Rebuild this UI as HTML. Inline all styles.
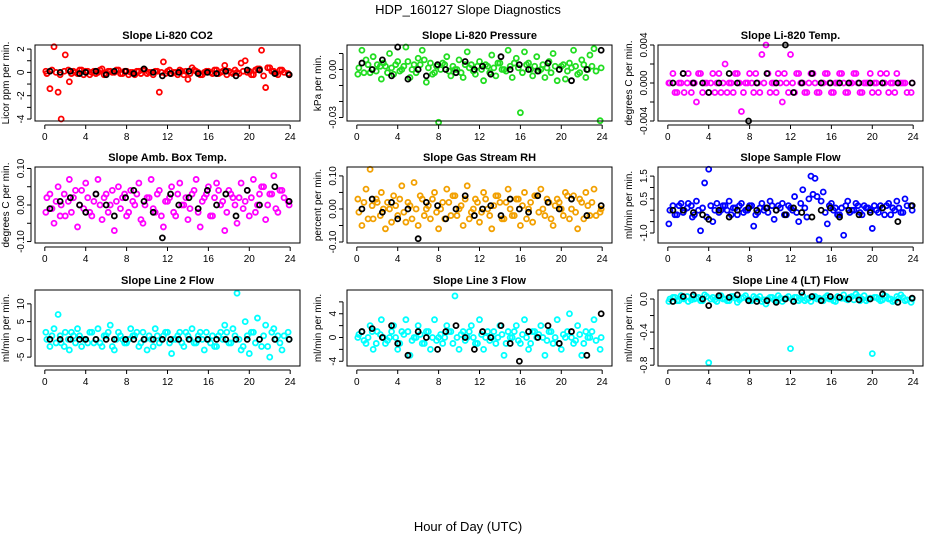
<!DOCTYPE html>
<html><head><meta charset="utf-8"><style>
body{margin:0;background:#fff;}
svg{display:block;font-family:"Liberation Sans",sans-serif;}
</style></head><body>
<svg id="c" width="936" height="540" viewBox="0 0 936 540">
<text x="468" y="14" text-anchor="middle" font-size="13">HDP_160127  Slope Diagnostics</text>
<text x="468" y="531" text-anchor="middle" font-size="13">Hour of Day (UTC)</text>
</svg>
<script>
const hoursC=[0.1,0.5,0.9,1.3,1.6,2.0,2.4,2.8,3.2,3.6,4.0,4.4,4.8,5.2,5.6,6.0,6.4,6.8,7.2,7.6,8.0,8.4,8.8,9.2,9.6,10.0,10.4,10.8,11.2,11.6,12.0,12.4,12.8,13.2,13.6,14.0,14.4,14.8,15.2,15.6,16.0,16.4,16.8,17.2,17.6,18.0,18.4,18.8,19.2,19.6,20.0,20.4,20.8,21.2,21.6,22.0,22.4,22.8,23.2,23.8];
const hoursB=[0.2,0.7,1.1,1.5,1.9,2.3,2.6,3.0,3.4,3.8,4.2,4.6,5.0,5.4,5.8,6.2,6.6,7.0,7.4,7.8,8.2,8.6,9.0,9.4,9.8,10.2,10.6,11.0,11.4,11.8,12.2,12.6,13.0,13.4,13.8,14.2,14.6,15.0,15.4,15.8,16.2,16.6,17.0,17.4,17.8,18.2,18.6,19.0,19.4,19.8,20.2,20.6,21.0,21.4,21.8,22.2,22.6,23.0,23.4,23.9];
const hoursK=[0.5,1.5,2.5,3.4,4.0,5.0,6.0,6.8,7.9,8.7,9.7,10.6,11.5,12.3,13.1,14.1,15.0,15.9,16.8,17.7,18.7,19.8,21.0,22.5,23.9];
const xTicks=[0,4,8,12,16,20,24];

const co2C=[0.1,-1.4,2.2,-1.7,-4.0,1.5,-0.8,0.1,-0.1,0.2,0.1,-0.2,0.1,0.0,0.3,-0.1,0.1,0.0,0.2,-0.1,0.1,0.0,-0.2,0.1,0.2,-0.1,0.0,0.1,-1.7,0.9,0.1,-0.1,0.0,0.2,-0.2,-0.6,0.4,0.1,-0.2,0.0,0.1,-0.1,0.2,0.0,0.6,0.1,-0.1,0.0,0.8,1.0,0.1,-0.2,0.3,1.9,-1.3,0.4,0.1,-0.2,0.2,-0.1];
const co2B=[-0.1,0.2,0.0,-0.2,0.1,0.2,-0.1,0.0,0.2,-0.2,0.1,0.0,-0.1,0.2,-0.2,0.1,0.0,0.2,-0.1,0.1,-0.2,0.0,0.1,-0.1,0.2,0.0,-0.2,0.1,0.0,-0.1,0.2,0.0,-0.2,0.1,0.1,-0.1,0.2,0.0,-0.2,0.1,0.0,0.2,-0.1,0.1,-0.2,0.0,0.2,-0.1,0.1,0.0,-0.2,0.2,0.3,-0.3,0.4,0.1,-0.1,0.2,0.0,-0.2];
const co2K=[0.1,0.0,0.1,-0.1,0.0,0.1,-0.2,0.1,0.1,-0.1,0.3,0.0,-0.3,-0.1,0.0,0.1,-0.1,0.0,-0.1,0.1,-0.3,0.2,0.2,-0.1,-0.2];
const presC=[-0.003,0.012,0.006,-0.002,0.008,0.003,-0.006,0.002,0.01,-0.003,0.005,0.0,0.014,-0.005,0.003,0.007,0.012,-0.008,0.004,-0.002,-0.033,0.004,0.008,-0.004,0.0,0.006,-0.005,0.011,0.003,-0.003,0.005,-0.007,0.002,0.009,-0.004,0.004,0.0,0.012,-0.005,0.007,-0.027,0.011,0.004,-0.004,0.008,0.0,-0.005,0.005,0.01,-0.007,0.002,-0.006,0.004,0.012,-0.003,0.006,-0.005,0.009,0.013,-0.032];
const presB=[0.001,-0.002,0.003,0.0,-0.001,0.002,0.004,-0.002,0.001,0.003,-0.001,0.002,0.005,0.0,-0.002,0.003,0.006,0.001,-0.003,0.002,0.0,0.003,-0.001,0.002,0.0,-0.002,0.003,0.001,-0.001,0.002,0.0,0.003,-0.002,0.001,0.004,0.0,-0.001,0.002,0.004,0.001,-0.002,0.003,0.0,0.002,-0.001,0.003,0.001,-0.002,0.002,0.0,0.003,-0.001,0.001,0.002,-0.002,0.003,0.0,0.002,-0.001,0.001];
const presK=[0.004,0.0,0.006,-0.004,0.014,-0.006,0.0,-0.004,0.003,0.0,-0.002,0.005,0.0,0.002,-0.003,0.008,0.0,0.003,0.0,-0.001,0.004,0.0,-0.007,0.0,0.012];
const tempC=[0,0.001,-0.001,0,-0.001,0.001,0,-0.002,0.001,0,-0.001,0.001,0,-0.001,0.002,0,-0.001,0.001,-0.003,0,0.001,-0.001,0,0.003,0.004,-0.001,0,0.001,-0.002,0,0.003,-0.001,0.001,0,-0.001,0.001,0,-0.001,0,0.001,-0.001,0,0.001,0,-0.001,0,0.001,-0.001,0,0,-0.001,0,0.001,0,-0.001,0,0.001,0,0,-0.001];
const tempB=[0,-0.001,0,0.001,0,-0.001,0,0.001,-0.001,0,0,-0.001,0.001,0,-0.001,0,0.001,0,-0.001,0,0,0.001,-0.001,0,0.001,0,-0.001,0,0.001,-0.001,0,0.001,0,-0.001,0,0.001,-0.001,0,0.001,0,-0.001,0,0.001,-0.001,0,0.001,0,-0.001,0,0.001,0,-0.001,0,0.001,0,-0.001,0,0,-0.001,0];
const tempK=[0,0.001,0,0,-0.001,0,0.001,0,-0.004,0,0.001,0,0.004,-0.001,0,0.001,0,0,0,0,0,0,0,0,0];
const ambC=[-0.02,0.03,-0.05,0.05,0.0,-0.03,0.07,0.02,-0.06,0.04,0.06,-0.02,0.01,0.07,-0.04,0.03,0.0,-0.07,0.05,0.02,-0.03,0.04,0.0,0.06,-0.05,0.02,0.07,-0.02,0.04,-0.06,0.01,0.05,-0.03,0.06,0.0,-0.04,0.03,0.07,-0.06,0.02,0.05,-0.03,0.06,0.0,-0.07,0.04,0.02,-0.05,0.06,0.01,-0.03,0.07,0.0,0.05,-0.04,0.03,0.08,-0.02,0.04,0.01];
const ambB=[0.02,-0.01,0.01,-0.03,0.03,0.01,-0.02,0.04,0.0,-0.01,0.02,-0.03,0.03,0.0,0.02,-0.02,0.04,0.01,-0.01,0.03,-0.02,0.01,0.03,-0.04,0.0,0.02,-0.01,0.03,-0.03,0.01,0.02,-0.02,0.03,0.0,0.02,-0.01,0.04,-0.02,0.01,0.03,-0.03,0.02,0.04,0.01,-0.02,0.03,0.0,0.02,-0.01,0.04,0.02,-0.02,0.03,0.05,0.0,0.03,-0.01,0.04,0.02,0.0];
const ambK=[-0.01,0.01,0.02,0.0,-0.02,0.03,0.0,-0.03,0.02,0.04,0.01,-0.02,-0.09,0.03,0.0,0.02,-0.01,0.04,0.0,0.03,-0.03,0.04,0.0,0.05,0.01];
const rhC=[0.03,-0.05,0.06,0.12,-0.03,0.02,0.05,-0.06,0.0,0.04,-0.02,0.07,-0.04,0.01,0.08,-0.05,0.03,0.0,-0.03,0.05,-0.06,0.02,0.06,-0.02,0.04,0.0,-0.05,0.07,-0.01,0.03,-0.04,0.05,0.0,-0.06,0.04,0.02,-0.03,0.06,-0.02,0.03,-0.05,0.05,0.0,-0.04,0.04,0.06,-0.02,0.02,-0.05,0.03,0.0,0.05,-0.03,0.04,-0.06,0.02,0.05,-0.02,0.06,-0.01];
const rhB=[-0.01,0.02,-0.03,0.01,0.03,-0.02,0.0,0.02,-0.04,0.01,0.03,-0.01,0.02,-0.03,0.0,0.04,-0.02,0.01,0.03,-0.01,0.0,-0.03,0.02,0.04,-0.02,0.01,0.03,-0.03,0.0,0.02,-0.01,0.03,-0.02,0.01,0.04,-0.03,0.02,0.0,-0.02,0.03,0.01,-0.03,0.02,0.04,-0.01,0.0,0.03,-0.03,0.01,0.02,-0.02,0.04,0.0,-0.01,0.03,-0.03,0.01,0.02,-0.02,0.0];
const rhK=[0.0,0.03,-0.01,0.02,-0.03,0.0,-0.09,0.02,0.01,-0.03,0.0,0.04,-0.02,0.0,0.01,-0.02,0.03,0.0,-0.01,0.04,0.02,0.0,0.03,-0.02,0.01];
const flowC=[-0.6,0.2,-0.2,0.3,0.0,0.3,-0.3,0.4,-0.9,1.2,1.8,-0.5,0.3,0.0,0.2,0.4,0.1,-0.2,0.3,0.0,0.2,-0.7,-0.1,0.3,0.1,0.4,-0.4,0.2,0.3,-0.2,0.1,0.6,-0.5,0.9,-0.3,1.5,1.4,-1.3,0.8,-0.6,0.3,0.1,-0.2,-1.1,0.4,0.0,0.3,-0.1,0.2,0.1,-0.8,0.0,0.2,-0.2,0.3,0.1,0.4,-0.1,0.5,0.2];
const flowB=[0.0,-0.2,0.2,-0.1,0.1,0.2,-0.2,0.0,0.1,-0.3,0.2,0.0,-0.1,0.2,0.0,-0.2,0.1,0.2,-0.1,0.0,0.2,-0.2,0.1,0.0,-0.1,0.2,0.0,0.1,-0.2,0.2,0.0,-0.1,0.3,0.1,0.5,0.7,0.6,0.4,-0.1,0.2,0.0,-0.2,0.1,0.2,-0.1,0.0,0.2,-0.2,0.1,0.0,0.2,-0.1,0.1,0.2,-0.2,0.0,0.1,-0.1,0.2,0.0];
const flowK=[0.0,0.0,-0.1,-0.2,-0.4,0.0,-0.3,0.0,0.1,0.0,0.1,0.0,-0.2,0.1,-0.1,-0.3,0.0,0.1,-0.3,0.0,-0.2,-0.1,0.1,-0.5,0.2];
const l2C=[2,-2,3,7,-1,2,-3,1,3,-2,0,2,-1,3,-2,1,4,-3,2,0,-1,3,1,-2,2,-3,0,3,-1,1,2,-4,0,2,-2,1,3,-1,2,-3,0,1,-2,2,4,-1,3,13,-3,5,-4,2,6,-2,4,-5,3,1,-3,2];
const l2B=[0,1,-1,1,-2,0,2,-1,1,0,-1,2,0,-1,1,2,-2,0,1,-1,0,1,2,-1,0,1,-2,1,0,2,-1,0,1,-1,2,0,-1,1,0,2,-1,-2,1,0,2,-1,1,0,-2,1,2,-1,0,1,-2,2,0,-1,1,0];
const l2K=[0,0,0,0,0,0,0,0,0,0,0,0,0,0,0,0,0,0,0,0,0,0,0,0,0];
const l3C=[0,1,-1,2,-2,1,3,-1,0,2,-2,1,3,-3,0,2,-1,1,-2,3,0,-1,2,1,7,-2,1,0,2,-1,3,-2,1,0,-1,2,-3,1,0,2,-1,3,-2,1,0,2,-3,1,-1,3,-2,0,4,-1,2,-3,1,0,3,-2];
const l3B=[0.5,-0.5,0,1,-1,0.5,0,-0.5,1,0,-1,0.5,1,-0.5,0,0.5,-1,1,0,-0.5,0.5,0,1,-1,0,0.5,-0.5,1,0,-1,0.5,0,-0.5,1,0,0.5,-1,0,1,-0.5,0.5,0,-1,1,0.5,0,-0.5,1,0,-1,0.5,1,0,-0.5,0.5,-1,0,1,-0.5,0];
const l3K=[1,1.5,0,2,-1,-3,1,0,-2,1,2,0,-2,1,0,2,-1,-4,1,0,2,-1,1,-3,4];
const l4C=[-0.03,0.02,-0.02,0.04,0.0,-0.03,0.03,0.01,-0.02,0.05,-0.77,0.02,-0.03,0.04,0.0,-0.02,0.03,-0.04,0.01,0.04,-0.02,0.03,0.0,-0.03,-0.06,0.02,-0.01,0.04,-0.03,0.01,-0.6,0.02,-0.02,0.04,0.0,-0.03,0.03,0.01,-0.02,0.04,0.0,-0.03,0.02,0.05,-0.01,0.03,0.06,-0.02,0.04,0.0,-0.66,0.02,-0.02,0.04,0.0,-0.03,0.03,0.05,-0.02,-0.04];
const l4B=[0.0,0.02,-0.02,0.01,0.03,-0.01,0.0,0.02,-0.02,0.03,0.0,-0.01,0.02,0.0,-0.02,0.03,0.01,-0.01,0.02,0.0,-0.02,0.01,0.03,-0.01,0.0,0.02,-0.02,0.01,0.0,0.03,-0.01,0.02,0.0,-0.02,0.01,0.03,0.0,-0.01,0.02,0.0,-0.02,0.03,0.01,0.0,0.02,-0.01,0.03,0.0,-0.02,0.01,0.02,0.0,-0.01,0.03,0.0,-0.02,0.01,0.02,-0.01,0.0];
const l4K=[-0.03,0.03,0.05,0.0,-0.08,0.04,0.02,0.05,-0.02,-0.03,-0.02,-0.04,0.0,-0.03,0.08,0.03,-0.02,0.03,0.02,0.0,-0.01,0.0,0.06,-0.04,0.01];

const panels=[
 {t:"Slope Li-820 CO2",yl:"Licor ppm per min.",c:"#ff0000",C:co2C,B:co2B,K:co2K,d:[-4.17,2.35],ticks:[-4,-3,-2,-1,0,1,2],labs:{"-4":"-4","-2":"-2","0":"0","2":"2"}},
 {t:"Slope Li-820 Pressure",yl:"kPa per min.",c:"#22dd22",C:presC,B:presB,K:presK,d:[-0.0322,0.0153],ticks:[-0.03,-0.02,-0.01,0,0.01],labs:{"-0.03":"-0.03","0":"0.00"}},
 {t:"Slope Li-820 Temp.",yl:"degrees C per min.",c:"#ff00ff",C:tempC,B:tempB,K:tempK,d:[-0.004,0.004],ticks:[-0.004,-0.002,0,0.002,0.004],labs:{"-0.004":"-0.004","0":"0.000","0.004":"0.004"}},
 {t:"Slope Amb. Box Temp.",yl:"degrees C per min.",c:"#ff00ff",C:ambC,B:ambB,K:ambK,d:[-0.104,0.104],ticks:[-0.1,-0.05,0,0.05,0.1],labs:{"-0.1":"-0.10","0":"0.00","0.1":"0.10"}},
 {t:"Slope Gas Stream RH",yl:"percent per min.",c:"#f2a000",C:rhC,B:rhB,K:rhK,d:[-0.103,0.127],ticks:[-0.1,-0.05,0,0.05,0.1],labs:{"-0.1":"-0.10","0":"0.00","0.1":"0.10"}},
 {t:"Slope Sample Flow",yl:"ml/min per min.",c:"#0000ff",C:flowC,B:flowB,K:flowK,d:[-1.44,1.9],ticks:[-1,-0.5,0,0.5,1,1.5],labs:{"-1":"-1.0","0.5":"0.5","1.5":"1.5"}},
 {t:"Slope Line 2 Flow",yl:"ml/min per min.",c:"#00ffff",C:l2C,B:l2B,K:l2K,d:[-7.5,13.9],ticks:[-5,0,5,10],labs:{"-5":"-5","0":"0","5":"5","10":"10"}},
 {t:"Slope Line 3 Flow",yl:"ml/min per min.",c:"#00ffff",C:l3C,B:l3B,K:l3K,d:[-4.8,8],ticks:[-4,-2,0,2,4,6],labs:{"-4":"-4","0":"0","4":"4"}},
 {t:"Slope Line 4 (LT) Flow",yl:"ml/min per min.",c:"#00ffff",C:l4C,B:l4B,K:l4K,d:[-0.81,0.109],ticks:[-0.8,-0.6,-0.4,-0.2,0],labs:{"-0.8":"-0.8","-0.4":"-0.4","0":"0.0"}}
];
const lefts=[35,347,658],tops=[45,167,290],W=265,H=76;
const svg=document.getElementById('c');
const NS="http://www.w3.org/2000/svg";
function mk(tag,a,parent){const e=document.createElementNS(NS,tag);for(const k in a)e.setAttribute(k,a[k]);(parent||svg).appendChild(e);return e;}
panels.forEach((p,i)=>{
 const L=lefts[i%3],T=tops[Math.floor(i/3)];
 const g=mk('g',{});
 
 
 const xs=v=>L+(v+0.96)/25.92*W;
 const ys=v=>T+H-(v-p.d[0])/(p.d[1]-p.d[0])*H;
 const tt=mk('text',{x:L+W/2,y:T-6,'text-anchor':'middle','font-size':11,'font-weight':'bold'},g);tt.textContent=p.t;
 
 
 const yt=mk('text',{x:0,y:0,'text-anchor':'middle','font-size':10,transform:`translate(${L-26},${T+H/2}) rotate(-90)`},g);yt.textContent=p.yl;
 
 
 const pts=mk('g',{},g);
 
 
 p.B.forEach((v,j)=>{if(j>=hoursB.length)return;const c=mk('circle',{cx:xs(hoursB[j]),cy:ys(v),r:2.5,fill:'none',stroke:p.c,'stroke-width':1.8},pts);
  
  });
 p.C.forEach((v,j)=>{if(j>=hoursC.length)return;const c=mk('circle',{cx:xs(hoursC[j]),cy:ys(v),r:2.5,fill:'none',stroke:p.c,'stroke-width':1.8},pts);
  
  });
 p.K.forEach((v,j)=>{if(j>=hoursK.length)return;const c=mk('circle',{cx:xs(hoursK[j]),cy:ys(v),r:2.5,fill:'none',stroke:'#000','stroke-width':1.8},pts);
  
  });
 const box=mk('rect',{x:L,y:T,width:W,height:H,fill:'none',stroke:'#000','stroke-width':1},g);
 
 
 const x0=xs(xTicks[0]),x1=xs(xTicks[xTicks.length-1]);
 mk('line',{x1:x0,x2:x1,y1:T+H+4,y2:T+H+4,stroke:'#000'},g);
 xTicks.forEach(v=>{mk('line',{x1:xs(v),x2:xs(v),y1:T+H+4,y2:T+H+8,stroke:'#000'},g);
  const l=mk('text',{x:xs(v),y:T+H+19,'text-anchor':'middle','font-size':10},g);l.textContent=v;
  
  });
 const tk=p.ticks;
 mk('line',{x1:L-4,x2:L-4,y1:ys(tk[0]),y2:ys(tk[tk.length-1]),stroke:'#000'},g);
 tk.forEach(v=>{mk('line',{x1:L-8,x2:L-4,y1:ys(v),y2:ys(v),stroke:'#000'},g);
  const s=p.labs[String(v)];if(s!==undefined){const l=mk('text',{x:0,y:0,'text-anchor':'middle','font-size':10,transform:`translate(${L-11},${ys(v)}) rotate(-90)`},g);l.textContent=s;
  
  }});
});
</script>
</body></html>
